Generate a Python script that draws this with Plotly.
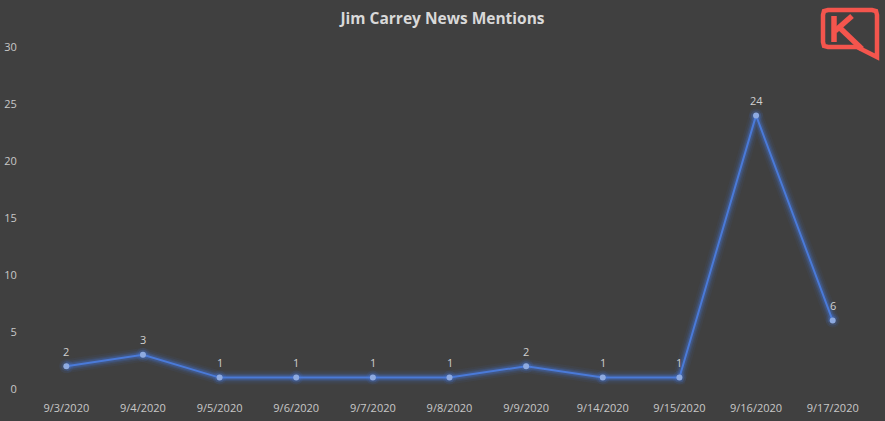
import plotly.graph_objects as go

dates = ["9/3/2020", "9/4/2020", "9/5/2020", "9/6/2020", "9/7/2020", "9/8/2020",
         "9/9/2020", "9/14/2020", "9/15/2020", "9/16/2020", "9/17/2020"]
mentions = [2, 3, 1, 1, 1, 1, 2, 1, 1, 24, 6]
y_ticks = [0, 5, 10, 15, 20, 25, 30]

W, H = 885, 421
ML, MR, MT, MB = 28, 14, 47, 32
PW, PH = W - ML - MR, H - MT - MB

BG = "#404040"
LINE = "#4a7ad8"

fig = go.Figure()

# glow layers
for w, a in [(14, 0.06), (10, 0.10), (7, 0.16), (5, 0.22)]:
    fig.add_trace(go.Scatter(x=dates, y=mentions, mode="lines",
                             line=dict(color=f"rgba(70,120,220,{a})", width=w),
                             hoverinfo="skip", showlegend=False))
for s, a in [(14, 0.10), (10, 0.18)]:
    fig.add_trace(go.Scatter(x=dates, y=mentions, mode="markers",
                             marker=dict(color=f"rgba(70,120,220,{a})", size=s),
                             hoverinfo="skip", showlegend=False))

fig.add_trace(go.Scatter(x=dates, y=mentions, mode="lines+markers",
                         line=dict(color=LINE, width=2),
                         marker=dict(color="#8eaae0", size=6),
                         showlegend=False))

for d, v in zip(dates, mentions):
    fig.add_annotation(x=d, y=v, text=str(v), showarrow=False, yshift=15,
                       font=dict(color="#d0d0d0", size=11, family="Open Sans"))


def px(x):
    return (x - ML) / PW


def py(y):
    return (H - MB - y) / PH


def path(points, close=False):
    s = "M " + " L ".join(f"{px(a):.5f},{py(b):.5f}" for a, b in points)
    return s + (" Z" if close else "")


LOGO = "#f4554d"
frame = [(857, 47), (828, 47), (824, 46), (823, 42), (823, 15), (824, 11), (828, 10),
         (872, 10), (876, 11), (877, 15), (877, 57), (857, 47)]
fig.add_shape(type="path", xref="paper", yref="paper", path=path(frame, True),
              line=dict(color=LOGO, width=4.5))
fig.add_shape(type="path", xref="paper", yref="paper", path=path([(834, 16), (834, 42)]),
              line=dict(color=LOGO, width=5.5))
fig.add_shape(type="path", xref="paper", yref="paper", path=path([(835, 31), (852, 16)]),
              line=dict(color=LOGO, width=5.5))
fig.add_shape(type="path", xref="paper", yref="paper", path=path([(840, 28), (862, 49)]),
              line=dict(color=LOGO, width=5.5))

fig.update_layout(
    width=W, height=H,
    margin=dict(l=ML, r=MR, t=MT, b=MB),
    paper_bgcolor=BG, plot_bgcolor=BG,
    title=dict(text="<b>Jim Carrey News Mentions</b>", x=0.5, xanchor="center",
               y=1 - 19 / H, yanchor="middle",
               font=dict(color="#d9d9d9", size=15.5, family="Open Sans")),
    xaxis=dict(type="category", range=[-0.5, len(dates) - 0.5], showgrid=False,
               zeroline=False, showline=False, ticks="outside", ticklen=9,
               tickcolor="rgba(0,0,0,0)", automargin=False,
               tickfont=dict(color="#c8c8c8", size=11, family="Open Sans")),
    yaxis=dict(range=[0, 30], tickvals=y_ticks, showgrid=False, zeroline=False,
               showline=False, ticks="outside", ticklen=8, tickcolor="rgba(0,0,0,0)",
               automargin=False,
               tickfont=dict(color="#c8c8c8", size=11, family="Open Sans")),
)

fig.write_html("out.html", config={"displayModeBar": False},
               post_script="document.body.style.margin='0';document.body.style.overflow='hidden';")
